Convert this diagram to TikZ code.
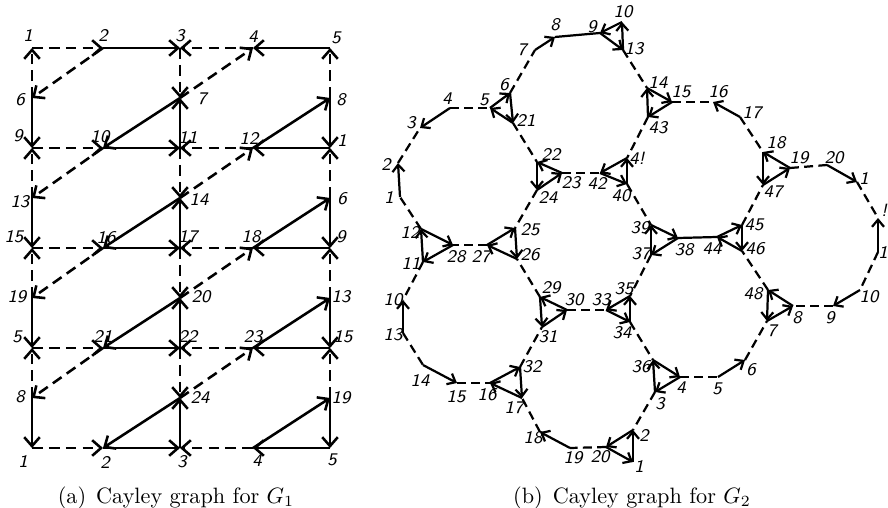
\documentclass[tikz,border=0pt]{standalone}
\usetikzlibrary{arrows.meta}
\begin{document}
\begin{tikzpicture}[x=0.45pt,y=-0.45pt,
 lw/.style={line width=1.15pt},
 sa/.style={lw,-{Straight Barb[length=4pt,width=7pt]}},
 da/.style={lw,-{Straight Barb[length=4pt,width=7pt]},dash pattern=on 4.8pt off 2.8pt},
 sb/.style={line width=1pt,-{Straight Barb[length=3.2pt,width=5.4pt]}},
 sbn/.style={line width=1pt},
 db/.style={line width=1pt,dash pattern=on 4pt off 2.4pt},
 lab/.style={font=\sffamily\slshape\fontsize{8}{9}\selectfont,inner sep=0pt},
 captext/.style={font=\normalsize,anchor=base,inner sep=0pt}]
\useasboundingbox (0,0) rectangle (888,508);

% ---------- (a) ----------
\foreach \c/\x in {0/32,1/103,2/180,3/253,4/330}{
  \foreach \r in {0,...,8}{\coordinate (a\c\r) at (\x,{48+50*\r});}}

\foreach \u/\v in {a10/a20,a40/a30,a12/a22,a42/a32,a14/a24,a44/a34,a16/a26,a46/a36,a18/a28,a48/a38,
 a01/a02,a03/a04,a05/a06,a07/a08,a41/a42,a43/a44,a45/a46,a47/a48,
 a22/a21,a24/a23,a26/a25,a28/a27,
 a21/a12,a32/a41,a23/a14,a34/a43,a25/a16,a36/a45,a27/a18,a38/a47}
  {\draw[sa] (\u) -- (\v);}
\foreach \u/\v in {a00/a10,a30/a20,a02/a12,a32/a22,a04/a14,a34/a24,a06/a16,a36/a26,a08/a18,a38/a28,
 a01/a00,a03/a02,a05/a04,a07/a06,a41/a40,a43/a42,a45/a44,a47/a46,
 a20/a21,a22/a23,a24/a25,a26/a27,
 a10/a01,a21/a30,a12/a03,a23/a32,a14/a05,a25/a34,a16/a07,a27/a36}
  {\draw[da] (\u) -- (\v);}

\foreach \n/\p/\t in {la0/{28,35}/1,la1/{103,35}/2,la2/{180,36}/3,la3/{253,37}/4,la4/{336,38}/5,
 la5/{20,100}/6,la6/{202,99}/7,la7/{341,100}/8,
 la8/{18,136}/9,la9/{100,137}/10,la10/{188,137}/11,la11/{249,138}/12,la12/{342,140}/1,
 la13/{20,202}/13,la14/{199,199}/14,la15/{342,199}/6,
 la16/{14,237}/15,la17/{106,238}/16,la18/{188,237}/17,la19/{251,237}/18,la20/{341,237}/9,
 la21/{17,297}/19,la22/{201,297}/20,la23/{341,297}/13,
 la24/{17,337}/5,la25/{103,336}/21,la26/{188,336}/22,la27/{253,337}/23,la28/{343,337}/15,
 la29/{20,397}/8,la30/{200,397}/24,la31/{341,398}/19,
 la32/{23,461}/1,la33/{105,462}/2,la34/{182,462}/3,la35/{257,461}/4,la36/{332,460}/5}
  {\node[lab] (\n) at (\p) {\t};}

% ---------- (b) ----------
\foreach \n/\p in {b1L/{400,197},b2L/{398,163},b3L/{420,128},b4L/{450,108},b5U/{490,108},b6U/{510,93},
 b7U/{535,50},b8U/{555,37},b9U/{600,33},b10U/{622,22},b13U/{623,50},b14U/{647,88},b15U/{672,102},
 b43/{648,117},b16U/{713,102},b17U/{740,117},b18U/{763,152},b19R/{790,168},b20R/{827,165},
 b1R/{857,182},b11R/{878,218},b12R/{878,252},b10R/{860,290},b9R/{833,306},b8R/{793,306},
 b48/{768,290},b7R/{767,321},b6B/{745,360},b5B/{718,377},b4B/{680,377},b3B/{655,392},b36/{653,360},
 b2B/{633,430},b1B/{633,462},b20B/{606,447},b19B/{570,448},b18B/{540,432},b17B/{522,398},
 b32/{520,367},b16B/{490,383},b15L/{457,383},b14L/{423,365},b13L/{403,333},b10L/{403,300},
 b11/{423,262},b12/{421,229},b28/{453,245},b27/{487,245},b25/{515,228},b26/{517,259},
 b29/{540,297},b31/{542,327},b30/{567,310},b33/{606,310},b35/{630,296},b34/{630,322},
 b21/{513,123},b22/{537,162},b23/{562,173},b24/{537,190},b42/{600,173},b41/{627,158},b40/{627,184},
 b39/{651,225},b37/{651,255},b38/{678,238},b44/{717,237},b45/{742,225},b46/{742,251},b47/{763,185}}
  {\coordinate (\n) at (\p);}

\foreach \u/\v in {b1L/b2L,b4L/b3L,b5U/b6U,b6U/b21,b21/b5U,b7U/b8U,b9U/b13U,b13U/b10U,b10U/b9U,
 b43/b14U,b14U/b15U,b15U/b43,b17U/b16U,b18U/b47,b47/b19R,b19R/b18U,b20R/b1R,b12R/b11R,b10R/b9R,
 b48/b7R,b7R/b8R,b8R/b48,b5B/b6B,b3B/b36,b36/b4B,b4B/b3B,b1B/b2B,b2B/b20B,b20B/b1B,b19B/b18B,
 b16B/b32,b32/b17B,b17B/b16B,b14L/b15L,b13L/b10L,b11/b12,b12/b28,b28/b11,b27/b25,b25/b26,b26/b27,
 b29/b31,b31/b30,b30/b29,b34/b35,b35/b33,b33/b34,b22/b24,b24/b23,b23/b22,b40/b41,b41/b42,b42/b40,
 b37/b39,b39/b38,b38/b37,b44/b45,b45/b46,b46/b44}
  {\draw[sb] (\u) -- (\v);}
\foreach \u/\v in {b8U/b9U,b38/b44}
  {\draw[sbn] (\u) -- (\v);}
\foreach \u/\v in {b2L/b3L,b4L/b5U,b6U/b7U,b21/b22,b23/b42,b13U/b14U,b43/b41,b15U/b16U,b17U/b18U,
 b19R/b20R,b1R/b11R,b12R/b10R,b9R/b8R,b48/b46,b45/b47,b40/b39,b37/b35,b34/b36,b3B/b2B,b20B/b19B,
 b18B/b17B,b32/b31,b29/b26,b30/b33,b24/b25,b27/b28,b11/b10L,b12/b1L,b13L/b14L,b15L/b16B,b6B/b7R,b4B/b5B}
  {\draw[db] (\u) -- (\v);}

\foreach \n/\p/\t in {lb0/{555,25}/8,lb1/{592,27}/9,lb2/{623,12}/10,lb3/{634,49}/13,lb4/{522,50}/7,
 lb5/{504,85}/6,lb6/{484,100}/5,lb7/{526,120}/21,lb8/{447,99}/4,lb9/{411,123}/3,lb10/{386,164}/2,
 lb11/{389,197}/1,lb12/{410,232}/12,lb13/{551,154}/22,lb14/{548,197}/24,lb15/{571,183}/23,
 lb16/{597,183}/42,lb17/{621,196}/40,lb18/{530,230}/25,lb19/{637,158}/4!,lb20/{658,82}/14,
 lb21/{681,92}/15,lb22/{658,128}/43,lb23/{718,92}/16,lb24/{752,113}/17,lb25/{776,143}/18,
 lb26/{799,158}/19,lb27/{834,158}/20,lb28/{864,178}/1,lb29/{884,210}/!,lb30/{773,192}/47,
 lb31/{640,228}/39,lb32/{754,225}/45,lb33/{641,254}/37,lb34/{684,250}/38,lb35/{712,249}/44,
 lb36/{755,249}/46,lb37/{753,294}/48,lb38/{797,318}/8,lb39/{772,331}/7,lb40/{830,318}/9,
 lb41/{869,297}/10,lb42/{883,252}/1,lb43/{624,289}/35,lb44/{622,333}/34,lb45/{641,367}/36,
 lb46/{681,388}/4,lb47/{717,389}/5,lb48/{751,370}/6,lb49/{660,404}/3,lb50/{644,435}/2,
 lb51/{639,466}/1,lb52/{600,457}/20,lb53/{411,263}/11,lb54/{456,257}/28,lb55/{481,257}/27,
 lb56/{530,255}/26,lb57/{393,300}/10,lb58/{393,335}/13,lb59/{420,380}/14,lb60/{456,397}/15,
 lb61/{487,395}/16,lb62/{551,288}/29,lb63/{574,300}/30,lb64/{601,300}/33,lb65/{548,337}/31,
 lb66/{532,367}/32,lb67/{514,408}/17,lb68/{533,438}/18,lb69/{573,458}/19}
  {\node[lab] (\n) at (\p) {\t};}

\node[captext] (capa) at (176,503) {(a)\hspace{0.45em}Cayley graph for $G_1$};
\node[captext] (capb) at (632,503) {(b)\hspace{0.45em}Cayley graph for $G_2$};
\end{tikzpicture}
\end{document}
